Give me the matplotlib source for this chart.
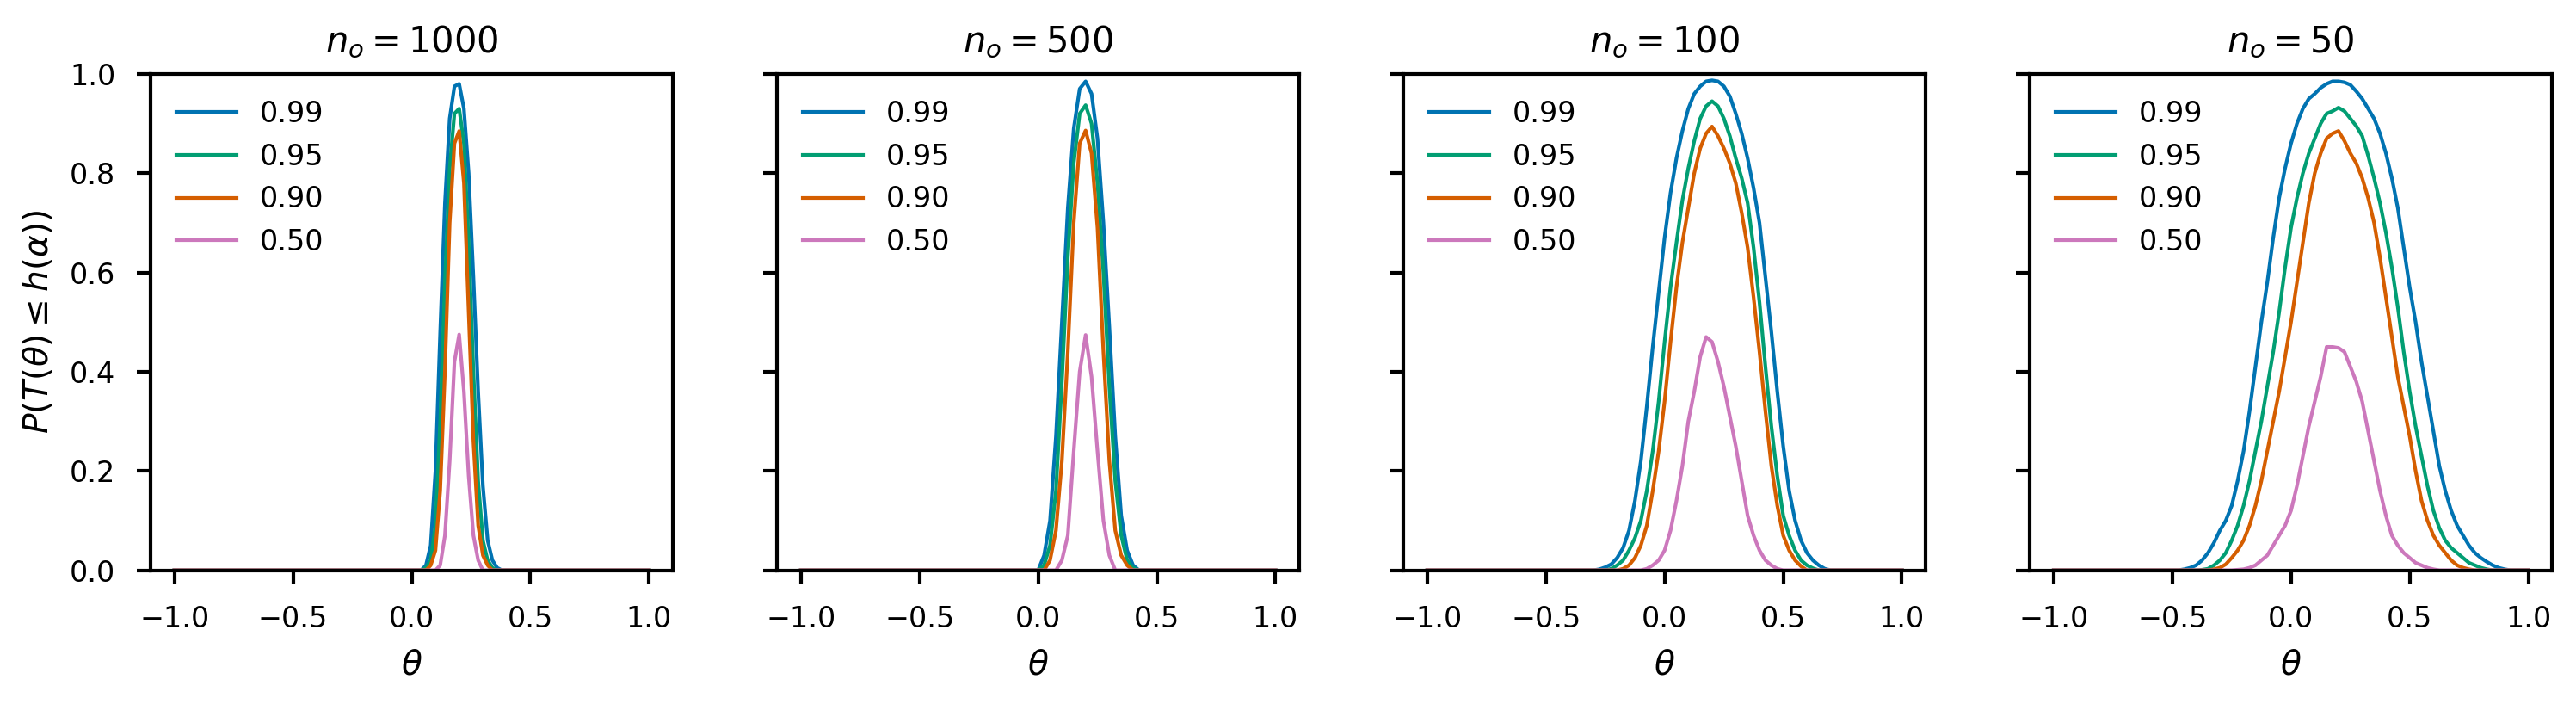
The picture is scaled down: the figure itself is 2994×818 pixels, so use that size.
import matplotlib
matplotlib.use("Agg")
import matplotlib.pyplot as plt

# coverage levels and their colours (seaborn colorblind)
levels = ["0.99", "0.95", "0.90", "0.50"]
colors = ["#0173b2", "#029e73", "#d55e00", "#cc78bc"]
n_obs = [1000, 500, 100, 50]

# n_o = 1000
theta_1000 = [-1.0, 0.0, 0.04, 0.06, 0.08, 0.10, 0.12, 0.14, 0.16, 0.18, 0.20,
              0.22, 0.24, 0.26, 0.28, 0.30, 0.32, 0.34, 0.36, 0.38, 0.40, 1.0]
p99_1000 = [0, 0, 0, 0.01, 0.05, 0.20, 0.48, 0.74, 0.91, 0.975, 0.98,
            0.93, 0.80, 0.59, 0.36, 0.17, 0.06, 0.02, 0.005, 0, 0, 0]
p95_1000 = [0, 0, 0, 0.005, 0.02, 0.09, 0.30, 0.58, 0.81, 0.92, 0.93,
            0.86, 0.66, 0.40, 0.18, 0.06, 0.02, 0.005, 0, 0, 0, 0]
p90_1000 = [0, 0, 0, 0, 0.01, 0.04, 0.16, 0.40, 0.70, 0.86, 0.885,
            0.78, 0.52, 0.26, 0.09, 0.03, 0.01, 0, 0, 0, 0, 0]
p50_1000 = [0, 0, 0, 0, 0, 0, 0.01, 0.07, 0.22, 0.42, 0.475,
            0.36, 0.19, 0.07, 0.02, 0, 0, 0, 0, 0, 0, 0]

# n_o = 500
theta_500 = [-1.0, 0.0, 0.025, 0.05, 0.075, 0.10, 0.125, 0.15, 0.175, 0.20, 0.225,
             0.25, 0.275, 0.30, 0.325, 0.35, 0.375, 0.40, 0.425, 0.45, 1.0]
p99_500 = [0, 0, 0.03, 0.10, 0.27, 0.50, 0.73, 0.89, 0.97, 0.985, 0.96,
           0.87, 0.70, 0.49, 0.27, 0.11, 0.04, 0.01, 0, 0, 0]
p95_500 = [0, 0, 0.01, 0.05, 0.16, 0.38, 0.63, 0.82, 0.92, 0.937, 0.90,
           0.78, 0.60, 0.37, 0.18, 0.07, 0.02, 0.005, 0, 0, 0]
p90_500 = [0, 0, 0, 0.02, 0.08, 0.22, 0.44, 0.70, 0.86, 0.886, 0.84,
           0.69, 0.44, 0.22, 0.08, 0.03, 0.01, 0, 0, 0, 0]
p50_500 = [0, 0, 0, 0, 0, 0.02, 0.07, 0.24, 0.40, 0.474, 0.39,
           0.24, 0.10, 0.03, 0, 0, 0, 0, 0, 0, 0]

# n_o = 100
theta_100 = [-1.0, -0.35, -0.325, -0.3, -0.275, -0.25, -0.225, -0.2, -0.175, -0.15,
             -0.125, -0.1, -0.075, -0.05, -0.025, 0.0, 0.025, 0.05, 0.075, 0.1,
             0.125, 0.15, 0.175, 0.2, 0.225, 0.25, 0.275, 0.3, 0.325, 0.35,
             0.375, 0.4, 0.425, 0.45, 0.475, 0.5, 0.525, 0.55, 0.575, 0.6,
             0.625, 0.65, 0.675, 0.7, 0.725, 0.75, 1.0]
p99_100 = [0, 0, 0, 0, 0.002, 0.006, 0.012, 0.025, 0.045, 0.08,
           0.14, 0.22, 0.33, 0.45, 0.56, 0.67, 0.76, 0.83, 0.885, 0.93,
           0.96, 0.975, 0.985, 0.987, 0.985, 0.975, 0.955, 0.92, 0.88, 0.83,
           0.77, 0.70, 0.59, 0.48, 0.36, 0.25, 0.16, 0.10, 0.06, 0.035,
           0.02, 0.01, 0.003, 0, 0, 0, 0]
p95_100 = [0, 0, 0, 0, 0, 0, 0.003, 0.01, 0.02, 0.04,
           0.065, 0.10, 0.16, 0.24, 0.34, 0.46, 0.57, 0.66, 0.745, 0.81,
           0.865, 0.91, 0.935, 0.945, 0.935, 0.91, 0.875, 0.83, 0.79, 0.74,
           0.65, 0.54, 0.41, 0.29, 0.19, 0.11, 0.07, 0.04, 0.02, 0.01,
           0.004, 0, 0, 0, 0, 0, 0]
p90_100 = [0, 0, 0, 0, 0, 0, 0, 0, 0.003, 0.01,
           0.025, 0.05, 0.09, 0.16, 0.24, 0.34, 0.46, 0.57, 0.66, 0.73,
           0.80, 0.85, 0.88, 0.894, 0.875, 0.85, 0.82, 0.78, 0.72, 0.65,
           0.55, 0.44, 0.32, 0.21, 0.13, 0.07, 0.04, 0.02, 0.008, 0,
           0, 0, 0, 0, 0, 0, 0]
p50_100 = [0, 0, 0, 0, 0, 0, 0, 0, 0, 0,
           0, 0, 0.003, 0.01, 0.02, 0.04, 0.08, 0.14, 0.21, 0.30,
           0.36, 0.43, 0.47, 0.46, 0.42, 0.37, 0.31, 0.25, 0.18, 0.11,
           0.07, 0.04, 0.02, 0.01, 0.003, 0, 0, 0, 0, 0,
           0, 0, 0, 0, 0, 0, 0]

# n_o = 50
theta_50 = [-1.0, -0.55, -0.525, -0.5, -0.475, -0.45, -0.425, -0.4, -0.375, -0.35,
            -0.325, -0.3, -0.275, -0.25, -0.225, -0.2, -0.175, -0.15, -0.125, -0.1,
            -0.075, -0.05, -0.025, 0.0, 0.025, 0.05, 0.075, 0.1, 0.125, 0.15,
            0.175, 0.2, 0.225, 0.25, 0.275, 0.3, 0.325, 0.35, 0.375, 0.4,
            0.425, 0.45, 0.475, 0.5, 0.525, 0.55, 0.575, 0.6, 0.625, 0.65,
            0.675, 0.7, 0.725, 0.75, 0.775, 0.8, 0.825, 0.85, 0.875, 0.9,
            0.925, 0.95, 1.0]
p99_50 = [0, 0, 0, 0, 0, 0.002, 0.005, 0.01, 0.02, 0.035,
          0.055, 0.08, 0.10, 0.13, 0.18, 0.24, 0.32, 0.41, 0.50, 0.58,
          0.67, 0.75, 0.81, 0.86, 0.90, 0.93, 0.95, 0.96, 0.972, 0.98,
          0.985, 0.985, 0.983, 0.978, 0.965, 0.95, 0.93, 0.91, 0.88, 0.84,
          0.79, 0.73, 0.65, 0.57, 0.50, 0.42, 0.35, 0.28, 0.21, 0.16,
          0.12, 0.09, 0.07, 0.05, 0.035, 0.025, 0.017, 0.01, 0.005, 0.002,
          0, 0, 0]
p95_50 = [0, 0, 0, 0, 0, 0, 0, 0, 0.001, 0.003,
          0.01, 0.02, 0.035, 0.06, 0.09, 0.13, 0.18, 0.24, 0.30, 0.37,
          0.44, 0.52, 0.61, 0.69, 0.75, 0.80, 0.84, 0.87, 0.90, 0.92,
          0.925, 0.932, 0.925, 0.91, 0.895, 0.875, 0.835, 0.79, 0.74, 0.68,
          0.61, 0.53, 0.44, 0.36, 0.29, 0.23, 0.17, 0.12, 0.085, 0.06,
          0.045, 0.035, 0.025, 0.015, 0.01, 0.005, 0.002, 0, 0, 0,
          0, 0, 0]
p90_50 = [0, 0, 0, 0, 0, 0, 0, 0, 0, 0,
          0.002, 0.005, 0.012, 0.025, 0.04, 0.06, 0.09, 0.13, 0.18, 0.24,
          0.30, 0.36, 0.43, 0.50, 0.58, 0.66, 0.74, 0.80, 0.84, 0.87,
          0.88, 0.885, 0.865, 0.84, 0.82, 0.79, 0.75, 0.70, 0.63, 0.55,
          0.47, 0.39, 0.33, 0.27, 0.20, 0.14, 0.10, 0.07, 0.05, 0.035,
          0.02, 0.01, 0.005, 0.002, 0, 0, 0, 0, 0, 0,
          0, 0, 0]
p50_50 = [0, 0, 0, 0, 0, 0, 0, 0, 0, 0,
          0, 0, 0, 0, 0.001, 0.002, 0.005, 0.01, 0.02, 0.03,
          0.05, 0.07, 0.09, 0.12, 0.17, 0.23, 0.29, 0.34, 0.39, 0.45,
          0.45, 0.448, 0.44, 0.41, 0.38, 0.34, 0.28, 0.22, 0.16, 0.11,
          0.07, 0.05, 0.035, 0.025, 0.015, 0.01, 0.005, 0.002, 0, 0,
          0, 0, 0, 0, 0, 0, 0, 0, 0, 0,
          0, 0, 0]

thetas = [theta_1000, theta_500, theta_100, theta_50]
curves = [
    [p99_1000, p95_1000, p90_1000, p50_1000],
    [p99_500, p95_500, p90_500, p50_500],
    [p99_100, p95_100, p90_100, p50_100],
    [p99_50, p95_50, p90_50, p50_50],
]

plt.rcParams.update({
    "font.family": "DejaVu Sans",
    "axes.linewidth": 1.0,
    "xtick.major.size": 3.8,
    "ytick.major.size": 3.8,
    "xtick.major.width": 1.0,
    "ytick.major.width": 1.0,
    "xtick.major.pad": 6,
    "ytick.major.pad": 6,
    "xtick.labelsize": 8,
    "ytick.labelsize": 8,
})

fig, axes = plt.subplots(1, 4, figsize=(9.98, 2.7267), dpi=300, sharey=True)
fig.subplots_adjust(left=0.0585, right=0.9907, bottom=0.19, top=0.895, wspace=0.2)

for ax, n, th, ys in zip(axes, n_obs, thetas, curves):
    for y, lab, c in zip(ys, levels, colors):
        ax.plot(th, y, color=c, lw=1.0, label=lab)
    ax.set_title(r"$n_o = %d$" % n, fontsize=10)
    ax.set_xlabel(r"$\theta$", fontsize=9.4)
    ax.set_xticks([-1.0, -0.5, 0.0, 0.5, 1.0])
    ax.set_ylim(0, 1)
    ax.legend(loc="upper left", frameon=False, fontsize=8,
              handlelength=2.1, labelspacing=0.5)

axes[0].set_ylabel(r"$P(T(\theta) \leq h(\alpha))$", fontsize=9.4)

fig.savefig("out.png", dpi=300)
